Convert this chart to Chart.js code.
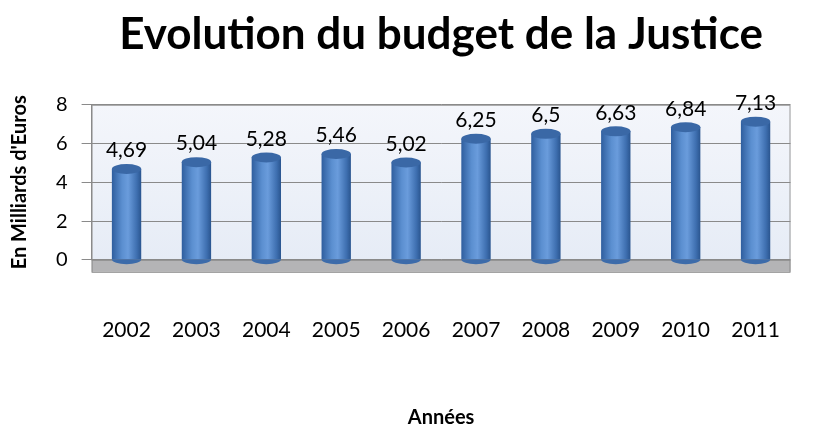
<!DOCTYPE html>
<html>
<head>
<meta charset="utf-8">
<script src="https://cdn.jsdelivr.net/npm/chart.js@4/dist/chart.umd.min.js"></script>
<style>
  html, body { margin: 0; padding: 0; background: #ffffff; }
  #wrap { width: 832px; height: 436px; }
</style>
</head>
<body>
<div id="wrap"><canvas id="c" width="832" height="436"></canvas></div>
<script>
const categories = ['2002', '2003', '2004', '2005', '2006', '2007', '2008', '2009', '2010', '2011'];
const budget = [4.69, 5.04, 5.28, 5.46, 5.02, 6.25, 6.5, 6.63, 6.84, 7.13];
const valueLabels = ['4,69', '5,04', '5,28', '5,46', '5,02', '6,25', '6,5', '6,63', '6,84', '7,13'];
const yTickValues = [0, 2, 4, 6, 8];

const FONT = 'Lato, "Open Sans", "Liberation Sans", sans-serif';
const BAR_PCT = 0.42;

function barGradient(ctx) {
  const chart = ctx.chart;
  const xs = chart.scales.x;
  if (!xs || !chart.chartArea) return '#4F81BD';
  const cx = xs.getPixelForValue(ctx.dataIndex);
  const w = (xs.width / categories.length) * BAR_PCT;
  const g = chart.ctx.createLinearGradient(cx - w / 2, 0, cx + w / 2, 0);
  g.addColorStop(0, '#2F5E9E');
  g.addColorStop(0.35, '#5B8FD0');
  g.addColorStop(0.55, '#6A9CDC');
  g.addColorStop(0.85, '#3E6FB0');
  g.addColorStop(1, '#2A558F');
  return g;
}

const wallPlugin = {
  id: 'wall',
  beforeDraw(chart) {
    const { ctx, chartArea: a } = chart;
    ctx.save();
    const g = ctx.createLinearGradient(0, a.top, 0, a.bottom);
    g.addColorStop(0, '#F4F6FB');
    g.addColorStop(1, '#E6ECF6');
    ctx.fillStyle = g;
    ctx.fillRect(a.left, a.top, a.right - a.left, a.bottom - a.top);
    ctx.strokeStyle = '#9A9A9A';
    ctx.lineWidth = 1;
    ctx.strokeRect(a.left + 0.5, a.top + 0.5, a.right - a.left - 1, a.bottom - a.top);
    ctx.fillStyle = '#B4B4B6';
    ctx.fillRect(a.left, a.bottom, a.right - a.left, 12);
    ctx.strokeStyle = '#8C8C8C';
    ctx.strokeRect(a.left + 0.5, a.bottom + 0.5, a.right - a.left - 1, 12);
    ctx.restore();
  }
};

const capPlugin = {
  id: 'caps',
  afterDatasetsDraw(chart) {
    const { ctx } = chart;
    const meta = chart.getDatasetMeta(0);
    ctx.save();
    meta.data.forEach((el, i) => {
      const w = el.width;
      ctx.fillStyle = '#3C6BAA';
      ctx.beginPath();
      ctx.ellipse(el.x, el.base, w / 2, 5, 0, 0, Math.PI);
      ctx.fill();
      ctx.fillStyle = '#3A68A6';
      ctx.beginPath();
      ctx.ellipse(el.x, el.y, w / 2, 5, 0, 0, Math.PI * 2);
      ctx.fill();
      ctx.fillStyle = '#000000';
      ctx.font = '21px ' + FONT;
      ctx.textAlign = 'center';
      ctx.textBaseline = 'bottom';
      ctx.fillText(valueLabels[i], el.x, el.y - 8);
    });
    ctx.restore();
  }
};

new Chart(document.getElementById('c'), {
  type: 'bar',
  data: {
    labels: categories,
    datasets: [{
      data: budget,
      backgroundColor: barGradient,
      borderWidth: 0,
      barPercentage: BAR_PCT,
      categoryPercentage: 1
    }]
  },
  options: {
    responsive: false,
    animation: false,
    layout: { padding: { left: 8, right: 12, top: 0, bottom: 6 } },
    plugins: {
      legend: { display: false },
      tooltip: { enabled: false },
      title: {
        display: true,
        fullSize: false,
        text: 'Evolution du budget de la Justice',
        color: '#000000',
        font: { family: FONT, size: 44, weight: 'bold' },
        padding: { top: 8, bottom: 44 }
      }
    },
    scales: {
      y: {
        min: 0,
        max: 8,
        afterBuildTicks(scale) { scale.ticks = yTickValues.map(v => ({ value: v })); },
        ticks: { color: '#000000', font: { family: FONT, size: 20 }, padding: 14 },
        grid: { color: '#8A8A8A', lineWidth: 1, drawTicks: true, tickLength: 10 },
        border: { display: true, color: '#8A8A8A' },
        title: {
          display: true,
          text: "En Milliards d'Euros",
          color: '#000000',
          font: { family: FONT, size: 20, weight: 'bold' },
          padding: { top: 0, bottom: 10 }
        }
      },
      x: {
        grid: { display: false },
        border: { display: false },
        ticks: { color: '#000000', font: { family: FONT, size: 21 }, padding: 50 },
        title: {
          display: true,
          text: 'Années',
          color: '#000000',
          font: { family: FONT, size: 20, weight: 'bold' },
          padding: { top: 13, bottom: 0 }
        }
      }
    }
  },
  plugins: [wallPlugin, capPlugin]
});
</script>
</body>
</html>
